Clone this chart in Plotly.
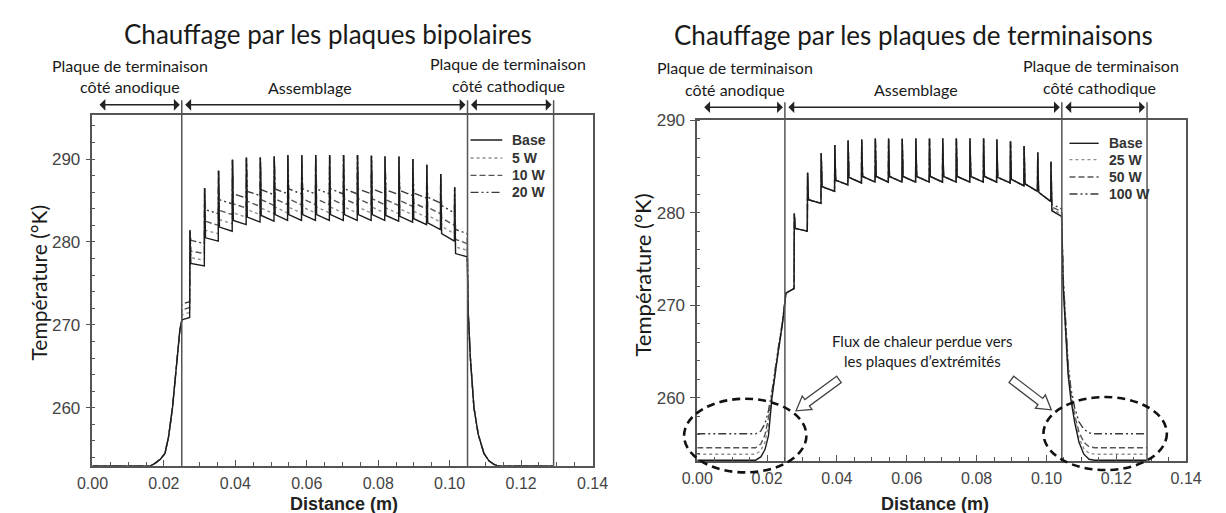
import plotly.graph_objects as go

W, H = 1226, 513

# ---------------- data: left panel (heating by bipolar plates) ----------------
L_NAMES = ["Base", "5 W", "10 W", "20 W"]
L_RISE_X = [0.0000, 0.0163, 0.0175, 0.0190, 0.0203, 0.0213, 0.0224, 0.0235, 0.0245, 0.0250]
L_RISE_T = [253.0, 253.0, 253.3, 253.8, 254.5, 256.5, 260.0, 265.0, 269.5, 270.5]
L_EDGES = [0.0250, 0.1050]
L_SPIKE_X = [0.0273, 0.0314, 0.0353, 0.0392, 0.0431, 0.0470, 0.0509, 0.0547, 0.0586, 0.0625,
             0.0664, 0.0703, 0.0742, 0.0781, 0.0819, 0.0858, 0.0897, 0.0936, 0.0975, 0.1014]
L_SPIKE_T = [281.4, 286.5, 288.6, 289.9, 290.2, 290.2, 290.3, 290.5, 290.5, 290.5,
             290.5, 290.5, 290.5, 290.4, 290.3, 290.3, 290.0, 289.3, 288.2, 286.6]
L_BASE_START = [270.6, 277.4, 280.5, 281.8, 282.6, 283.0, 283.2, 283.3, 283.3, 283.3, 283.3,
                283.3, 283.3, 283.3, 283.3, 283.2, 283.1, 282.8, 282.3, 281.0, 278.6]
L_BASE_END = [270.9, 277.1, 280.1, 281.3, 282.1, 282.4, 282.5, 282.6, 282.6, 282.6, 282.6,
              282.6, 282.6, 282.6, 282.6, 282.5, 282.4, 282.1, 281.5, 280.1, 278.2]
L_5W_START = [271.2, 278.1, 281.4, 282.7, 283.5, 283.9, 284.1, 284.2, 284.2, 284.2, 284.2,
              284.2, 284.2, 284.2, 284.2, 284.1, 284.0, 283.7, 283.2, 281.9, 279.4]
L_5W_END = [271.5, 277.8, 281.0, 282.2, 283.0, 283.3, 283.4, 283.5, 283.5, 283.5, 283.5,
            283.5, 283.5, 283.5, 283.5, 283.4, 283.3, 283.0, 282.4, 281.0, 279.0]
L_10W_START = [271.8, 278.9, 282.5, 283.8, 284.6, 284.9, 285.1, 285.2, 285.2, 285.2, 285.2,
               285.2, 285.2, 285.2, 285.2, 285.1, 285.0, 284.7, 284.2, 282.9, 280.3]
L_10W_END = [272.1, 278.6, 282.0, 283.3, 284.1, 284.3, 284.4, 284.5, 284.5, 284.5, 284.5,
             284.5, 284.5, 284.5, 284.5, 284.4, 284.3, 284.0, 283.4, 282.0, 279.8]
L_20W_START = [272.5, 280.2, 283.9, 285.1, 285.8, 286.1, 286.3, 286.4, 286.4, 286.4, 286.4,
               286.4, 286.4, 286.4, 286.4, 286.3, 286.2, 285.9, 285.4, 284.4, 281.5]
L_20W_END = [272.8, 279.8, 283.4, 284.6, 285.3, 285.6, 285.7, 285.8, 285.8, 285.8, 285.8,
             285.8, 285.8, 285.8, 285.8, 285.7, 285.6, 285.3, 284.7, 283.5, 281.0]
L_FALL_X = [0.1052, 0.1058, 0.1068, 0.1080, 0.1096, 0.1110, 0.1125, 0.1135, 0.1290]
L_FALL_T = [271.5, 266.0, 260.0, 256.8, 254.5, 253.6, 253.15, 253.0, 253.0]
L_VLINES = [0.0250, 0.1050, 0.1291]

# ---------------- data: right panel (heating by end plates) ----------------
R_NAMES = ["Base", "25 W", "50 W", "100 W"]
R_EDGES = [0.0254, 0.1044]
R_SPIKE_X = [0.0278, 0.0316, 0.0355, 0.0394, 0.0432, 0.0471, 0.0510, 0.0548, 0.0587, 0.0626,
             0.0665, 0.0703, 0.0742, 0.0781, 0.0820, 0.0858, 0.0897, 0.0936, 0.0975, 0.1013]
R_SPIKE_T = [279.9, 284.3, 286.4, 287.3, 287.8, 287.9, 288.0, 288.0, 288.0, 288.0,
             288.0, 288.0, 288.0, 288.0, 288.0, 287.9, 287.7, 287.2, 286.5, 285.5]
R_SEG_START = [271.3, 278.3, 281.4, 282.8, 283.5, 283.8, 283.9, 283.9, 283.9, 283.9, 283.9,
               283.9, 283.9, 283.9, 283.9, 283.9, 283.8, 283.6, 283.1, 282.2]
R_SEG_END = [271.8, 278.0, 281.0, 282.3, 283.0, 283.2, 283.3, 283.3, 283.3, 283.3, 283.3,
             283.3, 283.3, 283.3, 283.3, 283.3, 283.2, 282.9, 282.3, 281.2]
R_LAST_START = [280.2, 280.4, 280.6, 280.9]   # Base, 25 W, 50 W, 100 W
R_LAST_END = [279.6, 279.8, 280.1, 280.4]
R_RISE_X = [0.0000, 0.0167, 0.0182, 0.0194, 0.0204, 0.0214, 0.0230, 0.0244, 0.0254]
R_BASE_RISE_T = [253.25, 253.25, 253.6, 254.4, 255.9, 260.0, 264.5, 268.0, 271.3]
R_25W_RISE_T = [253.9, 253.9, 254.3, 255.2, 257.0, 260.1, 264.6, 268.0, 271.3]
R_50W_RISE_T = [254.6, 254.6, 255.0, 256.0, 257.8, 260.4, 264.7, 268.1, 271.3]
R_100W_RISE_T = [256.1, 256.1, 256.4, 257.2, 258.6, 260.7, 264.9, 268.2, 271.3]
R_FALL_X = [0.1048, 0.1055, 0.1062, 0.1070, 0.1081, 0.1093, 0.1107, 0.1122, 0.1138, 0.1288]
R_BASE_FALL_T = [272.0, 266.5, 262.5, 259.8, 257.3, 255.2, 253.9, 253.35, 253.25, 253.25]
R_25W_FALL_T = [272.3, 266.8, 262.8, 260.1, 257.7, 255.7, 254.5, 254.0, 253.9, 253.9]
R_50W_FALL_T = [272.6, 267.1, 263.1, 260.4, 258.1, 256.3, 255.2, 254.7, 254.6, 254.6]
R_100W_FALL_T = [273.0, 267.6, 263.7, 261.0, 258.9, 257.4, 256.6, 256.2, 256.1, 256.1]
R_VLINES = [0.0251, 0.1044, 0.1288]

X_TICKS = [0.00, 0.02, 0.04, 0.06, 0.08, 0.10, 0.12, 0.14]
X_TICKTEXT = ["0.00", "0.02", "0.04", "0.06", "0.08", "0.10", "0.12", "0.14"]
Y_TICKS = [260, 270, 280, 290]

# ---------------- styles ----------------
STYLES = [
    dict(color="#1c1c1c", width=1.4, dash="solid"),
    dict(color="#8e8e8e", width=1.4, dash="dot"),
    dict(color="#565656", width=1.4, dash="6px,3px"),
    dict(color="#3a3a3a", width=1.4, dash="8px,3px,2px,3px,2px,3px"),
]
AX = "#555555"
TXT_FONT = "Lato, 'Open Sans', sans-serif"
ARIAL = "'Liberation Sans', Arial, sans-serif"


def build(rise_x, rise_t, edges, spike_x, spike_t, seg_start, seg_end, fall_x, fall_t):
    xs, ys = list(rise_x), list(rise_t)
    bounds = [edges[0]] + list(spike_x) + [edges[1]]
    for k in range(len(seg_start)):
        a, b = bounds[k], bounds[k + 1]
        if k == 0:
            xs.append(a); ys.append(seg_start[0])
        else:
            xs += [a, a + 0.00025]
            ys += [spike_t[k - 1], seg_start[k]]
        xs.append(b - 0.00008); ys.append(seg_end[k])
    xs += list(fall_x); ys += list(fall_t)
    return xs, ys


fig = go.Figure()

left_starts = [L_BASE_START, L_5W_START, L_10W_START, L_20W_START]
left_ends = [L_BASE_END, L_5W_END, L_10W_END, L_20W_END]
order = [3, 2, 1, 0]
for i in order:
    xs, ys = build(L_RISE_X, L_RISE_T, L_EDGES, L_SPIKE_X, L_SPIKE_T,
                   left_starts[i], left_ends[i], L_FALL_X, L_FALL_T)
    fig.add_trace(go.Scatter(x=xs, y=ys, mode="lines", name=L_NAMES[i], line=STYLES[i],
                             xaxis="x", yaxis="y", showlegend=False))

r_rises = [R_BASE_RISE_T, R_25W_RISE_T, R_50W_RISE_T, R_100W_RISE_T]
r_falls = [R_BASE_FALL_T, R_25W_FALL_T, R_50W_FALL_T, R_100W_FALL_T]
for i in order:
    starts = R_SEG_START + [R_LAST_START[i]]
    ends = R_SEG_END + [R_LAST_END[i]]
    xs, ys = build(R_RISE_X, r_rises[i], R_EDGES, R_SPIKE_X, R_SPIKE_T,
                   starts, ends, R_FALL_X, r_falls[i])
    fig.add_trace(go.Scatter(x=xs, y=ys, mode="lines", name=R_NAMES[i], line=STYLES[i],
                             xaxis="x2", yaxis="y2", showlegend=False))

# ---------------- panel geometry (pixels) ----------------
LP = dict(x0=78.5, x1=592.0, y0=108.0, y1=465.0)
RP = dict(x0=699.5, x1=1201.5, y0=113.0, y1=460.0)


def px(x):
    return x / W


def py(y):
    return 1 - y / H


def xaxis_cfg(p):
    return dict(domain=[px(p["x0"]), px(p["x1"])], range=[0, 0.14], tickvals=X_TICKS,
                ticktext=X_TICKTEXT, ticks="inside", ticklen=6, tickwidth=1.2, tickcolor=AX,
                minor=dict(dtick=0.005, tick0=0, ticks="inside", ticklen=4, tickcolor=AX, tickwidth=1),
                showline=True, linecolor=AX, linewidth=1.5, mirror=True, showgrid=False,
                zeroline=False, tickfont=dict(family=ARIAL, size=16, color="#444444"),
                ticklabelstandoff=2, fixedrange=True)


def yaxis_cfg(p, rng):
    return dict(domain=[py(p["y1"]), py(p["y0"])], range=rng, tickvals=Y_TICKS,
                ticks="outside", ticklen=5, tickwidth=1.2, tickcolor=AX,
                minor=dict(dtick=2, tick0=250, ticks="inside", ticklen=3, tickcolor=AX, tickwidth=1),
                showline=True, linecolor=AX, linewidth=1.5, mirror=True, showgrid=False,
                zeroline=False, tickfont=dict(family=ARIAL, size=17, color="#444444"),
                ticklabelstandoff=2, fixedrange=True)


fig.update_layout(
    width=W, height=H, margin=dict(l=0, r=0, t=0, b=0),
    paper_bgcolor="white", plot_bgcolor="white", showlegend=False,
    xaxis=dict(anchor="y", **xaxis_cfg(LP)),
    yaxis=dict(anchor="x", **yaxis_cfg(LP, [253.0, 295.3])),
    xaxis2=dict(anchor="y2", **xaxis_cfg(RP)),
    yaxis2=dict(anchor="x2", **yaxis_cfg(RP, [253.17, 290.0])),
)

shapes = []
annotations = []


def text(x, y, s, size, family=TXT_FONT, color="#1a1a1a", angle=0, bold=False, xanchor="center"):
    annotations.append(dict(x=px(x), y=py(y), xref="paper", yref="paper", text=(f"<b>{s}</b>" if bold else s),
                            showarrow=False, xanchor=xanchor, yanchor="middle", textangle=angle,
                            borderpad=0, font=dict(family=family, size=size, color=color)))


# titles
text(320.5, 25, "Chauffage par les plaques bipolaires", 26)
text(921.5, 26, "Chauffage par les plaques de terminaisons", 26)

# zone headers
text(117, 57, "Plaque de terminaison", 16)
text(117, 79, "côté anodique", 16)
text(302, 79.5, "Assemblage", 16)
text(505, 55, "Plaque de terminaison", 16)
text(506, 78, "côté cathodique", 16)
text(738, 60, "Plaque de terminaison", 16)
text(738, 82, "côté anodique", 16)
text(924, 82, "Assemblage", 16)
text(1114, 57, "Plaque de terminaison", 16)
text(1113, 80, "côté cathodique", 16)

# axis titles
text(23, 278, "Température (°K)", 21, angle=-90)
text(643, 271, "Température (°K)", 22, angle=-90)
text(337, 503.5, "Distance (m)", 18, family=ARIAL, bold=True, color="#222222")
text(944, 503.5, "Distance (m)", 18, family=ARIAL, bold=True, color="#222222")

# vertical zone lines and double arrows
for xa, ya, vlines, p, ytop, yarr in [("x", "y", L_VLINES, LP, 93, 97.5), ("x2", "y2", R_VLINES, RP, 95, 100)]:
    for v in vlines:
        shapes.append(dict(type="line", xref=xa, yref="paper", x0=v, x1=v, y0=py(p["y1"]), y1=py(ytop),
                           line=dict(color=AX, width=1.5)))
    stops = [0.0010] + vlines
    for a, b in zip(stops[:-1], stops[1:]):
        annotations.append(dict(x=b, y=py(yarr), ax=a, ay=0, xref=xa, yref="paper",
                                axref=xa, ayref="pixel", text="", showarrow=True,
                                arrowhead=1, startarrowhead=1, arrowside="end+start",
                                arrowsize=1.3, startarrowsize=1.3, arrowwidth=1.5, arrowcolor="#222222",
                                standoff=2, startstandoff=2))

# custom legends
for names, lx0, lx1, tx, ys in [(L_NAMES, 466.7, 499.3, 508, [133.3, 151.7, 169.3, 186.7]),
                                (R_NAMES, 1081.7, 1111.7, 1121, [136.7, 153.3, 171.0, 188.3])]:
    for i, nm in enumerate(names):
        shapes.append(dict(type="line", xref="paper", yref="paper", x0=px(lx0), x1=px(lx1),
                           y0=py(ys[i]), y1=py(ys[i]), line=STYLES[i]))
        text(tx, ys[i], nm, 14, family=ARIAL, bold=True, color="#333333", xanchor="left")

# dashed ellipses
for (x0, x1, y0, y1) in [(686, 811.6, 396.7, 471.7), (1055, 1181.7, 395, 469.3)]:
    shapes.append(dict(type="circle", xref="paper", yref="paper", x0=px(x0), x1=px(x1),
                       y0=py(y1), y1=py(y0), line=dict(color="#111111", width=2.6, dash="8px,5px")))


def block_arrow(tail, tip, sw=8.0, hw=17.0, hl=14.0):
    dx, dy = tip[0] - tail[0], tip[1] - tail[1]
    ln = (dx * dx + dy * dy) ** 0.5
    ux, uy = dx / ln, dy / ln
    nx, ny = -uy, ux
    bx, by = tip[0] - ux * hl, tip[1] - uy * hl
    pts = [(tail[0] + nx * sw / 2, tail[1] + ny * sw / 2), (bx + nx * sw / 2, by + ny * sw / 2),
           (bx + nx * hw / 2, by + ny * hw / 2), tip, (bx - nx * hw / 2, by - ny * hw / 2),
           (bx - nx * sw / 2, by - ny * sw / 2), (tail[0] - nx * sw / 2, tail[1] - ny * sw / 2)]
    return "M " + " L ".join(f"{px(a):.5f},{py(b):.5f}" for a, b in pts) + " Z"


for tail, tip in [((845, 377), (801, 409)), ((1022, 377), (1063, 408))]:
    shapes.append(dict(type="path", xref="paper", yref="paper", path=block_arrow(tail, tip),
                       fillcolor="white", line=dict(color="#444444", width=1.3)))

text(931, 338, "Flux de chaleur perdue vers", 15)
text(931, 358, "les plaques d\u2019extrémités", 15)

fig.update_layout(shapes=shapes, annotations=annotations)
fig.write_html("out.html", config={"displayModeBar": False},
               post_script="document.body.style.margin='0px';document.body.style.overflow='hidden';")
